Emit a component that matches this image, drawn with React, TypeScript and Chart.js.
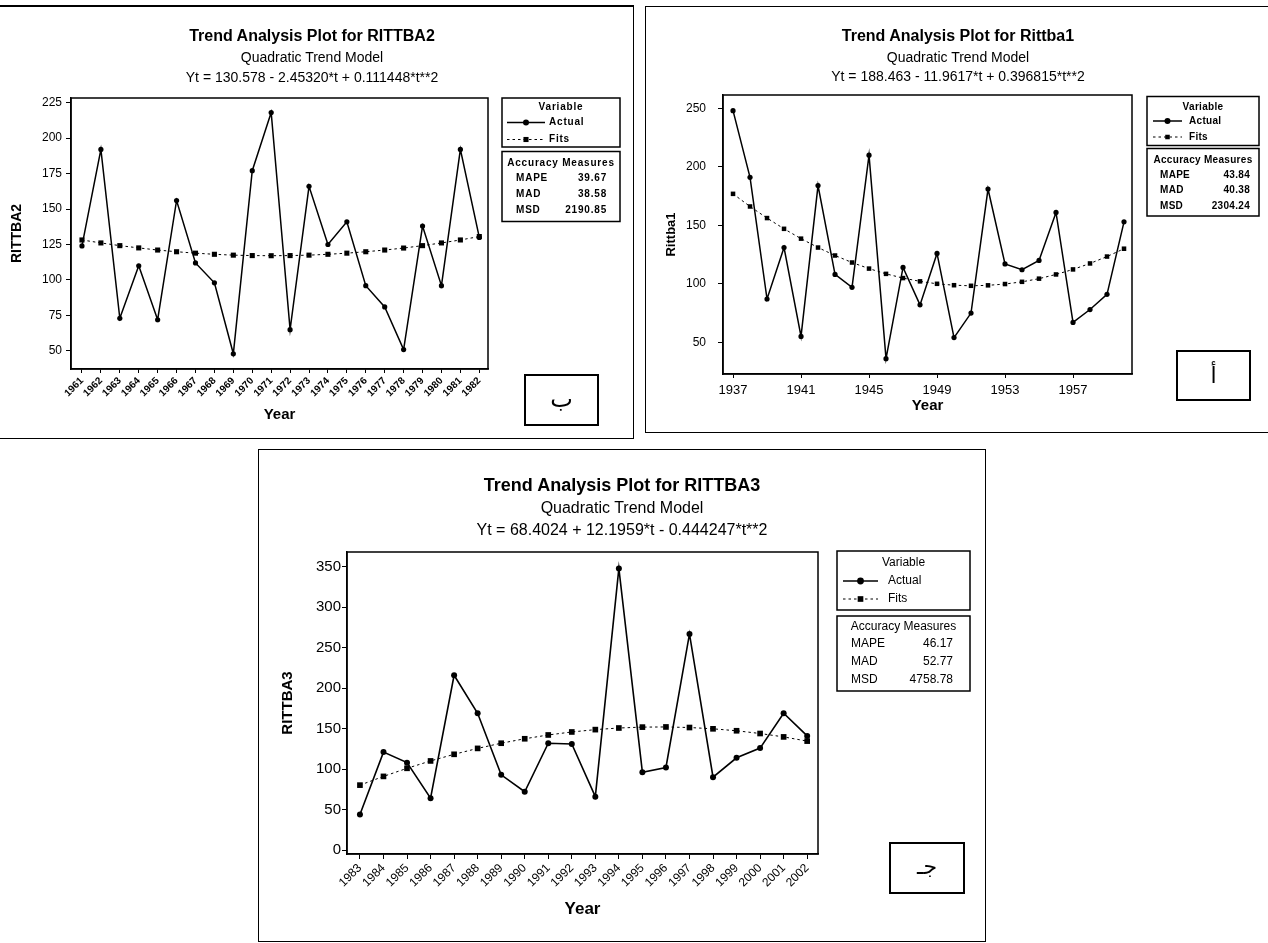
import React, { useEffect, useRef } from 'react';
import { Chart, registerables } from 'chart.js';

Chart.register(...registerables);
const FONT = '"Liberation Sans", Arial, sans-serif';
Chart.defaults.font.family = FONT;
Chart.defaults.color = '#000';

// ---------- RITTBA2 (top left) ----------
const years2 = [1961, 1962, 1963, 1964, 1965, 1966, 1967, 1968, 1969, 1970, 1971, 1972, 1973, 1974, 1975, 1976, 1977, 1978, 1979, 1980, 1981, 1982];
const actual2 = [124, 192, 73, 110, 72, 156, 112, 98, 48, 177, 218, 65, 166, 125, 141, 96, 81, 51, 138, 96, 192, 130];
const fits2 = [128.2, 126.1, 124.2, 122.6, 121.1, 119.9, 118.9, 118.1, 117.5, 117.2, 117.1, 117.2, 117.5, 118.1, 118.9, 119.9, 121.1, 122.5, 124.2, 126.1, 128.2, 130.6];
const yTicks2 = [50, 75, 100, 125, 150, 175, 200, 225];
const xTicks2 = years2;
const accValues2 = ['39.67', '38.58', '2190.85'];

// ---------- Rittba1 (top right) ----------
const years1 = [1937, 1938, 1939, 1940, 1941, 1942, 1943, 1944, 1945, 1946, 1947, 1948, 1949, 1950, 1951, 1952, 1953, 1954, 1955, 1956, 1957, 1958, 1959, 1960];
const actual1 = [248, 191, 87, 131, 55, 184, 108, 97, 210, 36, 114, 82, 126, 54, 75, 181, 117, 112, 120, 161, 67, 78, 91, 153];
const fits1 = [176.9, 166.1, 156.2, 147.0, 138.6, 131.0, 124.2, 118.2, 113.0, 108.5, 104.9, 102.1, 100.0, 98.8, 98.3, 98.7, 99.8, 101.7, 104.4, 108.0, 112.3, 117.4, 123.3, 130.0];
const yTicks1 = [50, 100, 150, 200, 250];
const xTicks1 = [1937, 1941, 1945, 1949, 1953, 1957];
const accValues1 = ['43.84', '40.38', '2304.24'];

// ---------- RITTBA3 (bottom) ----------
const years3 = [1983, 1984, 1985, 1986, 1987, 1988, 1989, 1990, 1991, 1992, 1993, 1994, 1995, 1996, 1997, 1998, 1999, 2000, 2001, 2002];
const actual3 = [44, 121, 108, 64, 216, 169, 93, 72, 132, 131, 66, 348, 96, 102, 267, 90, 114, 126, 169, 141];
const fits3 = [80.2, 91.0, 101.0, 110.1, 118.3, 125.6, 132.0, 137.5, 142.2, 145.9, 148.8, 150.8, 151.9, 152.1, 151.4, 149.8, 147.4, 144.0, 139.8, 134.6];
const yTicks3 = [0, 50, 100, 150, 200, 250, 300, 350];
const xTicks3 = years3;
const accValues3 = ['46.17', '52.77', '4758.78'];

const accLabels = ['MAPE', 'MAD', 'MSD'];
const legendLabels = ['Actual', 'Fits'];

const specs: any[] = [
  {
    key: 'p2',
    years: years2, actual: actual2, fits: fits2, xTicks: xTicks2, yTicks: yTicks2, acc: accValues2,
    titles: ['Trend Analysis Plot for RITTBA2', 'Quadratic Trend Model', 'Yt = 130.578 - 2.45320*t + 0.111448*t**2'],
    titleCx: 312, titleY: [36, 57, 77], titleSize: [16, 14, 14],
    canvas: { left: 0, top: 0, width: 634, height: 440 },
    area: { left: 71, top: 98, right: 488, bottom: 369 },
    xMin: 1960.42, xMax: 1982.46, yMin: 37.3, yMax: 228.2,
    xTickFont: { size: 10, weight: 'bold' }, xRot: 45, xTickLen: 4, xTickPad: 2,
    yTickFont: { size: 12 }, yTickLen: 5, yTickPad: 4,
    yTitle: 'RITTBA2', yTitleFont: { size: 14, weight: 'bold', lineHeight: 1.2 }, yTitlePad: 9,
    xTitleFont: { size: 15, weight: 'bold', lineHeight: 1.2 }, xTitlePad: 16,
    pr: 2.6, sr: 3.6, lineW: 1.5,
    legend: { x: 502, y: 98, w: 118, h: 49, titleY: 107, rowY: [122.5, 139.5], lx1: 507, lx2: 545, tx: 549, size: 10, weight: 'bold', ls: 0.8 },
    accBox: { x: 502, y: 151.5, w: 118, h: 70, titleY: 163.5, rowY: [178.5, 194, 210], labelX: 516, valueX: 607 },
    tag: { x: 525, y: 375, w: 73, h: 50, text: 'ب', size: 24, cy: 401 },
  },
  {
    key: 'p1',
    years: years1, actual: actual1, fits: fits1, xTicks: xTicks1, yTicks: yTicks1, acc: accValues1,
    titles: ['Trend Analysis Plot for Rittba1', 'Quadratic Trend Model', 'Yt = 188.463 - 11.9617*t + 0.396815*t**2'],
    titleCx: 958, titleY: [36, 57, 76], titleSize: [16, 14, 14],
    canvas: { left: 646, top: 0, width: 622, height: 440 },
    area: { left: 77, top: 95, right: 486, bottom: 374 },
    xMin: 1936.41, xMax: 1960.47, yMin: 22.9, yMax: 261.4,
    xTickFont: { size: 13 }, xRot: 0, xTickLen: 4, xTickPad: 5,
    yTickFont: { size: 12 }, yTickLen: 5, yTickPad: 12,
    yTitle: 'Rittba1', yTitleFont: { size: 13, weight: 'bold', lineHeight: 1.2 }, yTitlePad: 18,
    xTitleFont: { size: 15, weight: 'bold', lineHeight: 1.2 }, xTitlePad: 25,
    pr: 2.6, sr: 3.2, lineW: 1.5,
    legend: { x: 501, y: 96.5, w: 112, h: 49, titleY: 107.5, rowY: [121, 137], lx1: 507, lx2: 536, tx: 543, size: 10, weight: 'bold', ls: 0.3 },
    accBox: { x: 501, y: 148.5, w: 112, h: 67.5, titleY: 160.5, rowY: [175, 190.5, 206], labelX: 514, valueX: 604 },
    tag: { x: 531, y: 351, w: 73, h: 49, text: 'أ', size: 22, cy: 377 },
  },
  {
    key: 'p3',
    years: years3, actual: actual3, fits: fits3, xTicks: xTicks3, yTicks: yTicks3, acc: accValues3,
    titles: ['Trend Analysis Plot for RITTBA3', 'Quadratic Trend Model', 'Yt = 68.4024 + 12.1959*t - 0.444247*t**2'],
    titleCx: 622, titleY: [485, 507.5, 530], titleSize: [18, 16, 16],
    canvas: { left: 258, top: 445, width: 728, height: 498 },
    area: { left: 89, top: 107, right: 560, bottom: 409 },
    xMin: 1982.45, xMax: 2002.46, yMin: -4.9, yMax: 368.3,
    xTickFont: { size: 12 }, xRot: 45, xTickLen: 5, xTickPad: 2,
    yTickFont: { size: 15 }, yTickLen: 5, yTickPad: 1,
    yTitle: 'RITTBA3', yTitleFont: { size: 15, weight: 'bold', lineHeight: 1.2 }, yTitlePad: 21,
    xTitleFont: { size: 17, weight: 'bold', lineHeight: 1.2 }, xTitlePad: 23,
    pr: 3, sr: 4, lineW: 1.6,
    legend: { x: 579, y: 106, w: 133, h: 59, titleY: 118, rowY: [136, 154], lx1: 585, lx2: 620, tx: 630, size: 12, weight: 'normal', ls: 0 },
    accBox: { x: 579, y: 171, w: 133, h: 75, titleY: 182, rowY: [199, 217, 235], labelX: 593, valueX: 695 },
    tag: { x: 632, y: 398, w: 74, h: 50, text: 'جـ', size: 22, cy: 423 },
  },
];

function drawDecor(chart: any, s: any) {
  const ctx = chart.ctx;
  const a = chart.chartArea;
  ctx.save();
  ctx.strokeStyle = '#000';
  ctx.fillStyle = '#000';
  ctx.setLineDash([]);
  ctx.lineWidth = 1.5;
  ctx.strokeRect(a.left, a.top, a.right - a.left, a.bottom - a.top);

  const L = s.legend;
  const f = `${L.weight} ${L.size}px ${FONT}`;
  ctx.lineWidth = 1.5;
  ctx.strokeRect(L.x, L.y, L.w, L.h);
  ctx.font = f;
  (ctx as any).letterSpacing = L.ls + 'px';
  ctx.textBaseline = 'middle';
  ctx.textAlign = 'center';
  ctx.fillText('Variable', L.x + L.w / 2, L.titleY);
  const mid = (L.lx1 + L.lx2) / 2;
  // Actual sample
  ctx.lineWidth = 1.5;
  ctx.beginPath();
  ctx.moveTo(L.lx1, L.rowY[0]);
  ctx.lineTo(L.lx2, L.rowY[0]);
  ctx.stroke();
  ctx.beginPath();
  ctx.arc(mid, L.rowY[0], s.pr + 0.4, 0, Math.PI * 2);
  ctx.fill();
  // Fits sample
  ctx.lineWidth = 1;
  ctx.setLineDash([2.5, 3]);
  ctx.beginPath();
  ctx.moveTo(L.lx1, L.rowY[1]);
  ctx.lineTo(L.lx2, L.rowY[1]);
  ctx.stroke();
  ctx.setLineDash([]);
  const sq = s.sr * Math.SQRT1_2;
  ctx.fillRect(mid - sq, L.rowY[1] - sq, sq * 2, sq * 2);
  ctx.textAlign = 'left';
  ctx.fillText(legendLabels[0], L.tx, L.rowY[0]);
  ctx.fillText(legendLabels[1], L.tx, L.rowY[1]);

  const A = s.accBox;
  ctx.lineWidth = 1.5;
  ctx.strokeRect(A.x, A.y, A.w, A.h);
  ctx.textAlign = 'center';
  ctx.fillText('Accuracy Measures', A.x + A.w / 2, A.titleY);
  for (let i = 0; i < accLabels.length; i++) {
    ctx.textAlign = 'left';
    ctx.fillText(accLabels[i], A.labelX, A.rowY[i]);
    ctx.textAlign = 'right';
    ctx.fillText(s.acc[i], A.valueX, A.rowY[i]);
  }

  const T = s.tag;
  (ctx as any).letterSpacing = '0px';
  ctx.lineWidth = 2;
  ctx.strokeRect(T.x, T.y, T.w, T.h);
  ctx.font = `${T.size}px "DejaVu Sans", sans-serif`;
  ctx.textAlign = 'center';
  ctx.textBaseline = 'middle';
  ctx.fillText(T.text, T.x + T.w / 2, T.cy);
  ctx.restore();
}

function makeConfig(s: any): any {
  return {
    type: 'line',
    data: {
      datasets: [
        {
          label: legendLabels[0],
          data: s.years.map((x: number, i: number) => ({ x, y: s.actual[i] })),
          borderColor: '#000',
          backgroundColor: '#000',
          borderWidth: s.lineW,
          pointStyle: 'circle',
          pointRadius: s.pr,
          pointBackgroundColor: '#000',
          pointBorderColor: '#000',
          pointBorderWidth: 0,
          tension: 0,
          order: 0,
        },
        {
          label: legendLabels[1],
          data: s.years.map((x: number, i: number) => ({ x, y: s.fits[i] })),
          borderColor: '#000',
          backgroundColor: '#000',
          borderWidth: 1,
          borderDash: [2.5, 3],
          pointStyle: 'rect',
          pointRadius: s.sr,
          pointBackgroundColor: '#000',
          pointBorderColor: '#000',
          pointBorderWidth: 0,
          tension: 0,
          order: 1,
        },
      ],
    },
    options: {
      responsive: false,
      maintainAspectRatio: false,
      animation: false,
      events: [],
      layout: {
        padding: { left: 0, top: s.area.top, right: s.canvas.width - s.area.right, bottom: 0 },
      },
      plugins: {
        legend: { display: false },
        tooltip: { enabled: false },
        title: { display: false },
      },
      scales: {
        x: {
          type: 'linear',
          min: s.xMin,
          max: s.xMax,
          afterBuildTicks: (sc: any) => {
            sc.ticks = s.xTicks.map((v: number) => ({ value: v }));
          },
          afterFit: (sc: any) => {
            sc.height = s.canvas.height - s.area.bottom;
          },
          ticks: {
            autoSkip: false,
            maxRotation: s.xRot,
            minRotation: s.xRot,
            font: s.xTickFont,
            color: '#000',
            padding: s.xTickPad,
            callback: (v: any) => String(v),
          },
          grid: { display: true, drawOnChartArea: false, drawTicks: true, tickLength: s.xTickLen, color: '#000', lineWidth: 1 },
          border: { display: true, color: '#000', width: 1.5 },
          title: { display: true, text: 'Year', font: s.xTitleFont, color: '#000', padding: { top: 0, bottom: s.xTitlePad } },
        },
        y: {
          type: 'linear',
          min: s.yMin,
          max: s.yMax,
          afterBuildTicks: (sc: any) => {
            sc.ticks = s.yTicks.map((v: number) => ({ value: v }));
          },
          afterFit: (sc: any) => {
            sc.width = s.area.left;
          },
          ticks: {
            font: s.yTickFont,
            color: '#000',
            padding: s.yTickPad,
            callback: (v: any) => String(v),
          },
          grid: { display: true, drawOnChartArea: false, drawTicks: true, tickLength: s.yTickLen, color: '#000', lineWidth: 1 },
          border: { display: true, color: '#000', width: 1.5 },
          title: { display: true, text: s.yTitle, font: s.yTitleFont, color: '#000', padding: { top: s.yTitlePad, bottom: 0 } },
        },
      },
    },
    plugins: [
      {
        id: 'decor' + s.key,
        afterDraw: (chart: any) => drawDecor(chart, s),
      },
    ],
  };
}

function Panel({ s }: { s: any }) {
  const ref = useRef<HTMLCanvasElement>(null);
  useEffect(() => {
    if (!ref.current) return;
    const chart = new Chart(ref.current, makeConfig(s));
    return () => chart.destroy();
  }, [s]);
  const c = s.canvas;
  return (
    <canvas
      ref={ref}
      width={c.width}
      height={c.height}
      style={{ position: 'absolute', left: c.left, top: c.top, width: c.width, height: c.height }}
    />
  );
}

function Titles({ s }: { s: any }) {
  return (
    <>
      {s.titles.map((t: string, i: number) => {
        const lh = s.titleSize[i] + 6;
        return (
          <div
            key={i}
            style={{
              position: 'absolute',
              left: s.titleCx - 250,
              width: 500,
              top: s.titleY[i] - lh / 2,
              height: lh,
              lineHeight: lh + 'px',
              fontSize: s.titleSize[i],
              fontWeight: i === 0 ? 'bold' : 'normal',
              fontFamily: FONT,
              textAlign: 'center',
              whiteSpace: 'nowrap',
              color: '#000',
            }}
          >
            {t}
          </div>
        );
      })}
    </>
  );
}

const frames = [
  { left: -2, top: 5, width: 636, height: 434, borderTop: '2px solid #000', borderRight: '1.5px solid #000', borderBottom: '1.5px solid #000', borderLeft: '1px solid #000' },
  { left: 645, top: 6, width: 630, height: 427, border: '1.5px solid #000' },
  { left: 258, top: 449, width: 728, height: 493, border: '1.5px solid #000' },
];

export default function App() {
  return (
    <div style={{ position: 'absolute', left: 0, top: 0, width: 1268, height: 943, background: '#fff', overflow: 'hidden' }}>
      {frames.map((f, i) => (
        <div key={i} style={{ position: 'absolute', boxSizing: 'border-box', ...f }} />
      ))}
      {specs.map((s) => (
        <Panel key={s.key} s={s} />
      ))}
      {specs.map((s) => (
        <Titles key={'t' + s.key} s={s} />
      ))}
    </div>
  );
}
